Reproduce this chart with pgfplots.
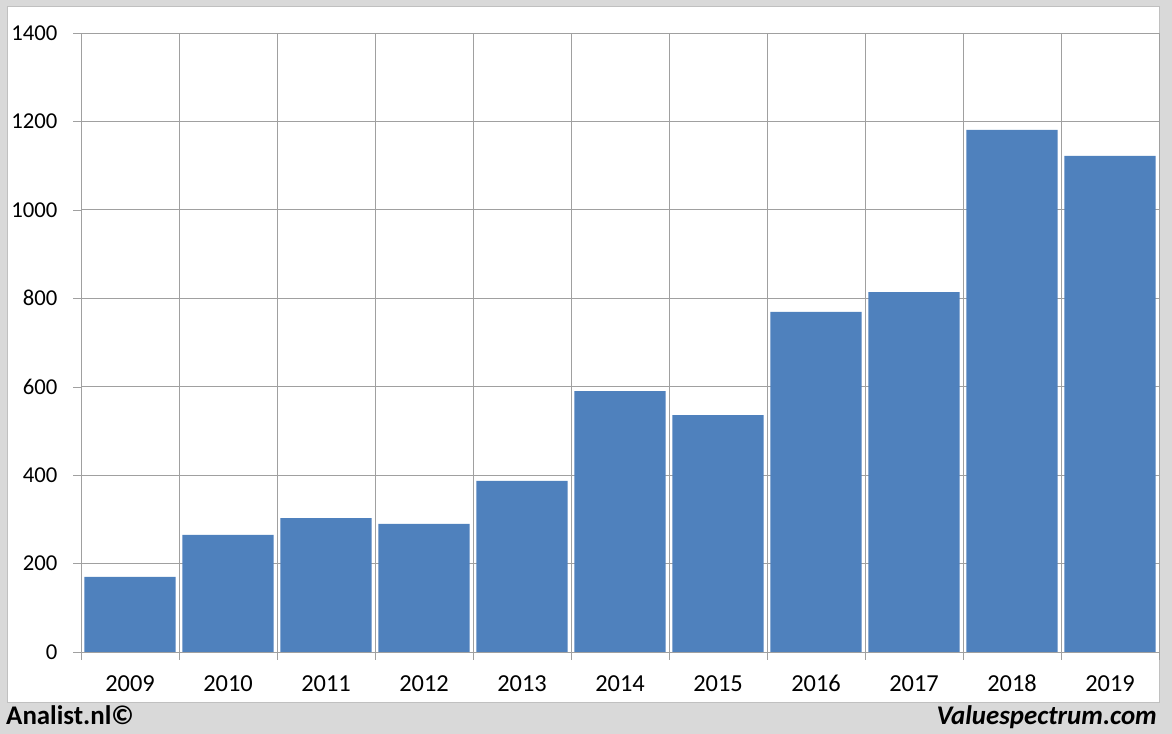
\documentclass[border=0pt]{standalone}
\usepackage{fontspec}
\setmainfont{Carlito}
\usepackage{pgfplots}
\pgfplotsset{compat=1.18}
\definecolor{barblue}{HTML}{4F81BD}
\definecolor{bggray}{HTML}{D9D9D9}
\definecolor{gridgray}{HTML}{A0A0A0}
\definecolor{panelborder}{HTML}{C0C0C0}
\begin{document}
\begin{tikzpicture}[x=1bp,y=1bp]
\fill[bggray] (0,0) rectangle (1172,734);
\filldraw[fill=white,draw=panelborder] (7,32) rectangle (1159,728);
\begin{axis}[
  at={(81bp,82bp)}, anchor=south west,
  width=1078bp, height=619bp, scale only axis,
  xmin=-0.5, xmax=10.5, ymin=0, ymax=1400,
  xtick={-0.5,0.5,...,10.5}, xticklabels={},
  xmajorgrids,
  extra x ticks={0,...,10},
  extra x tick labels={2009,2010,2011,2012,2013,2014,2015,2016,2017,2018,2019},
  extra x tick style={major tick length=0pt, grid=none,
     xticklabel style={anchor=north, text height=1.5ex, text depth=0.25ex, yshift=-29bp,
       font=\fontsize{24.5}{27}\selectfont}},
  ytick={0,200,...,1400}, ymajorgrids,
  tick align=outside, xtick pos=lower, ytick pos=left,
  major tick length=8bp,
  axis line style={gridgray},
  every tick/.style={gridgray},
  grid style={gridgray, line width=0.8pt},
  tick label style={font=\fontsize{22.8}{25}\selectfont, text=black},
  /pgf/number format/assume math mode=true,
  /pgf/number format/1000 sep={},
  yticklabel style={xshift=-12bp},
  ybar, bar width=0.93, bar shift=0,
]
\addplot[fill=barblue, draw=none] coordinates {
(0,170) (1,265) (2,303) (3,290) (4,387) (5,590) (6,536) (7,769) (8,814) (9,1181) (10,1122)
};
\end{axis}
\node[anchor=base west, inner sep=0] at (6,9) {\fontsize{27}{30}\selectfont\bfseries Analist.nl©};
\node[anchor=base east, inner sep=0] at (1157,9) {\fontsize{27}{30}\selectfont\bfseries\itshape Valuespectrum.com};
\end{tikzpicture}
\end{document}
